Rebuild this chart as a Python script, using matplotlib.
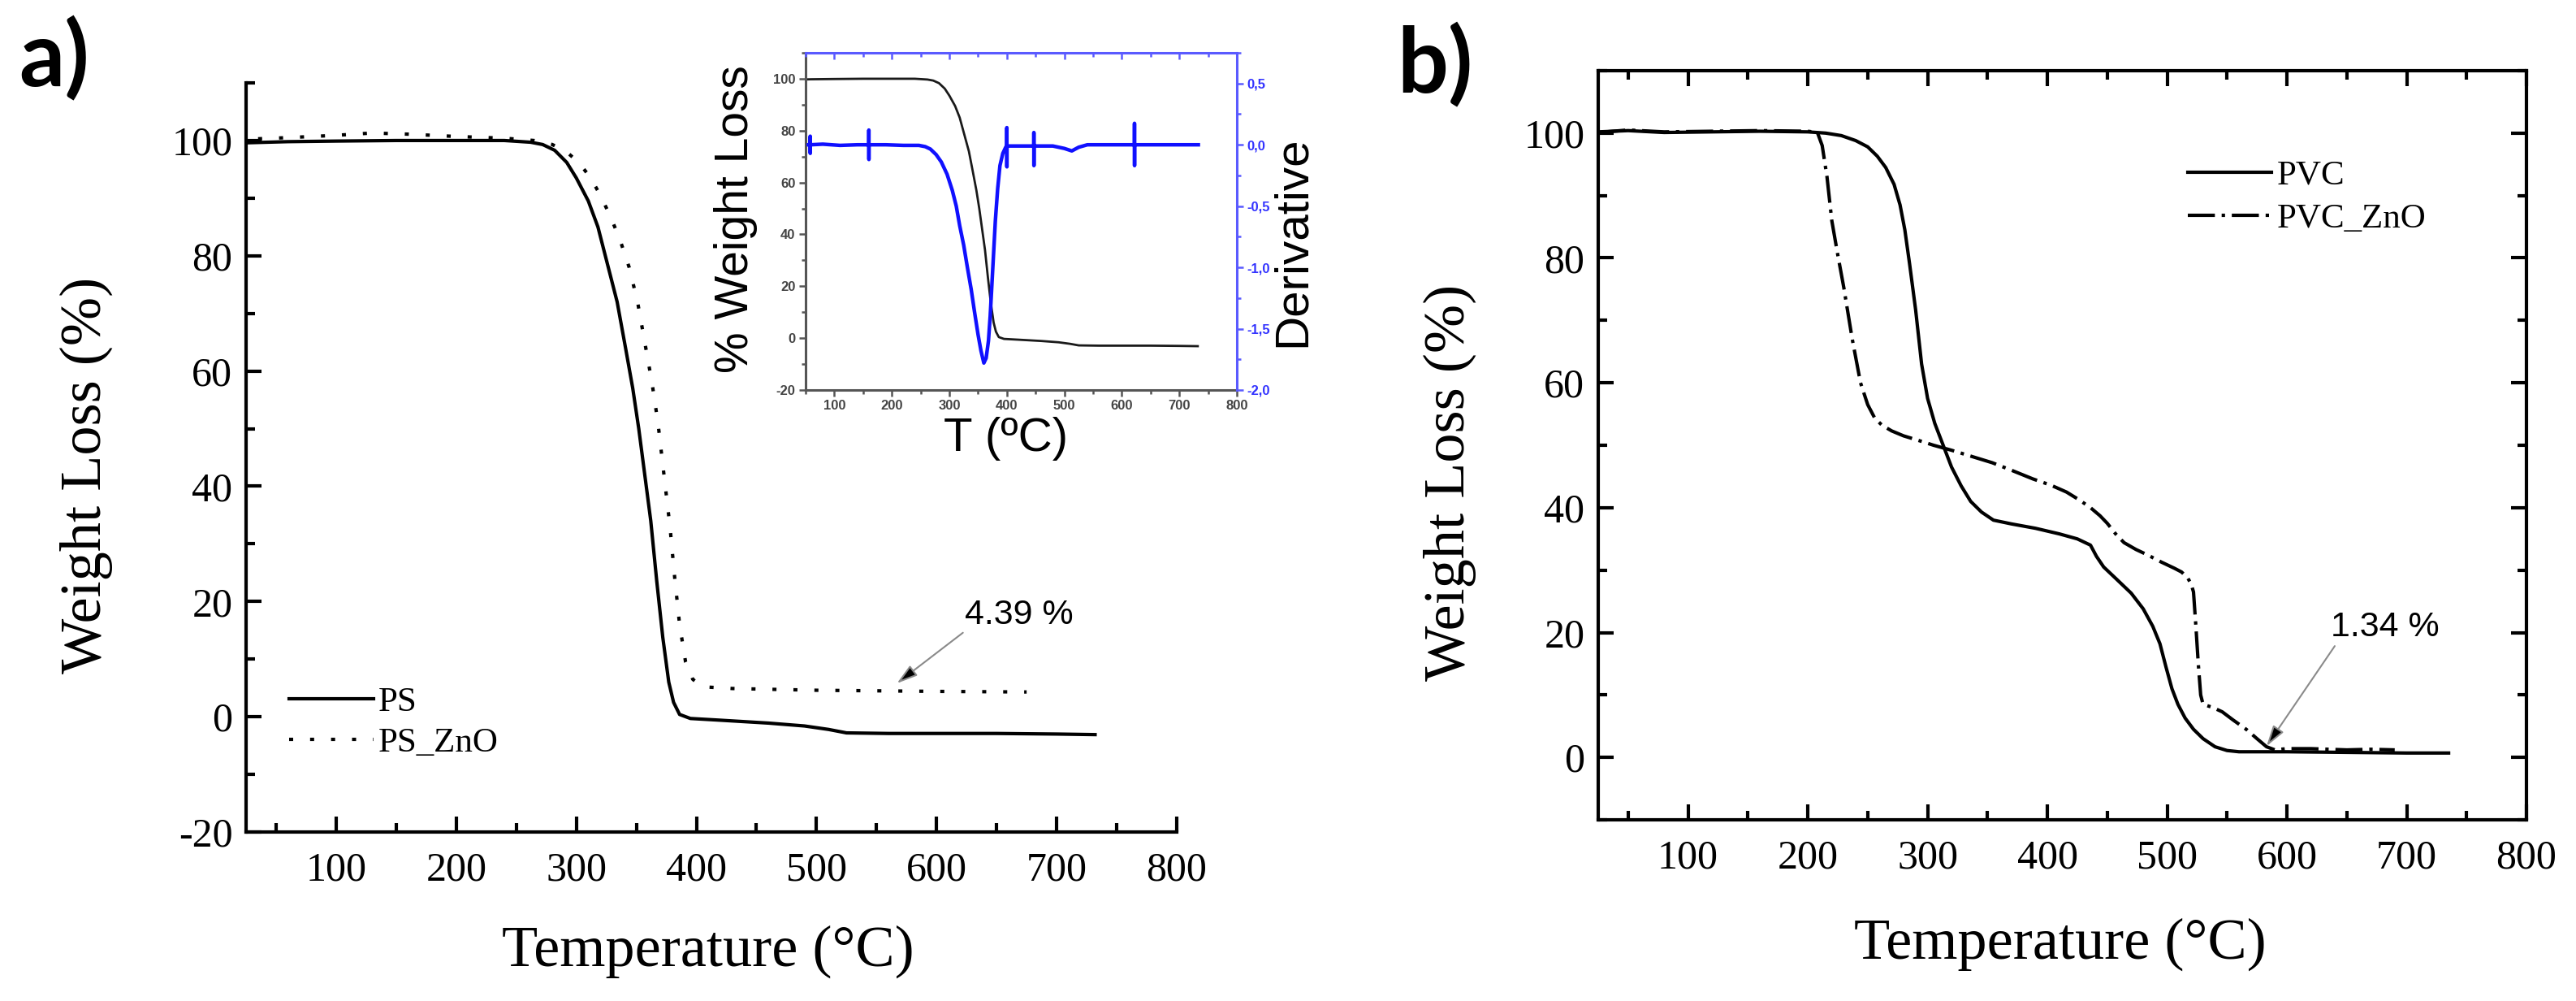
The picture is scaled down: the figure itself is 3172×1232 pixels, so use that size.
import matplotlib
matplotlib.use('Agg')
import matplotlib.pyplot as plt
from matplotlib.ticker import MultipleLocator, FuncFormatter

plt.rcParams['axes.unicode_minus'] = False
plt.rcParams['font.family'] = ['Liberation Serif', 'DejaVu Serif']

SERIF = 'Liberation Serif'
SANS = 'Liberation Sans'

# ---------------- data ----------------
ps_T = [25, 60, 100, 150, 200, 240, 262, 272, 282, 292, 300, 310, 318, 326, 334, 341,
        347, 352, 357, 362, 367, 372, 377, 381, 386, 395, 420, 460, 490, 510, 525, 560,
        650, 700, 732]
ps_W = [99.6, 99.8, 99.9, 100, 100, 100, 99.7, 99.3, 98.3, 96.2, 93.5, 89.5, 85, 78.5,
        72, 64, 57, 50, 42, 34, 23.5, 13.8, 6, 2.5, 0.4, -0.3, -0.6, -1.1, -1.6, -2.2,
        -2.8, -2.9, -2.9, -3.0, -3.1]

pszno_T = [35, 60, 100, 130, 160, 200, 240, 265, 280, 292, 302, 312, 320, 328, 336, 344,
           351, 357, 363, 368, 373, 378, 382, 386, 391, 397, 405, 430, 500, 600, 675]
pszno_W = [100.3, 100.5, 100.9, 101.3, 101.1, 100.7, 100.4, 100.0, 99.3, 98.0, 96.2, 93.5,
           90.5, 87, 83, 78, 72, 65, 58, 51, 42, 33, 24, 16, 9.5, 6.5, 5.2, 4.9, 4.6,
           4.4, 4.3]

pvc_T = [25, 50, 80, 120, 160, 200, 215, 228, 240, 250, 258, 265, 272, 277, 281, 285,
         290, 295, 300, 306, 313, 320, 328, 336, 345, 355, 370, 390, 410, 425, 436, 441,
         447, 458, 470, 480, 488, 494, 499, 504, 509, 515, 522, 530, 540, 550, 560, 600,
         650, 700, 735]
pvc_W = [100.2, 100.4, 100.1, 100.2, 100.3, 100.2, 100.0, 99.6, 98.8, 97.8, 96.3, 94.5,
         91.8, 88.5, 84.5, 79, 71.7, 63, 57.5, 53.5, 50, 46.5, 43.5, 41, 39.3, 38, 37.4,
         36.7, 35.8, 35, 34, 32.2, 30.5, 28.5, 26.3, 23.8, 21, 18.2, 14.5, 11, 8.5, 6.3,
         4.5, 3, 1.7, 1.1, 0.9, 0.9, 0.8, 0.7, 0.7]

pvczno_T = [25, 50, 80, 120, 160, 200, 208, 212, 216, 220, 225, 230, 237, 244, 250, 256,
            262, 270, 280, 292, 305, 320, 337, 354, 370, 388, 403, 416, 427, 436, 444,
            450, 457, 464, 474, 484, 495, 506, 512, 517, 520, 522, 524, 526, 528, 530,
            538, 546, 555, 566, 575, 583, 590, 600, 620, 650, 670, 690]
pvczno_W = [100.1, 100.5, 100.2, 100.3, 100.4, 100.3, 100.1, 98.0, 93.0, 86.0, 80.5, 75.3,
            67.1, 60.0, 56.5, 54.3, 53.2, 52.3, 51.5, 50.8, 50.0, 49.2, 48.2, 47.2, 46.0,
            44.6, 43.6, 42.5, 41.2, 40.0, 38.7, 37.5, 35.8, 34.4, 33.3, 32.4, 31.3, 30.3,
            29.7, 28.8, 27.8, 26.5, 21.0, 15.0, 10.0, 8.5, 8.0, 7.3, 6.0, 4.5, 3.0, 1.7,
            1.2, 1.4, 1.4, 1.2, 1.3, 1.2]

deriv_T = [55, 57.9, 58, 58.1, 58.2, 80, 110, 140, 159.9, 160, 160.1, 160.2, 190, 220,
           247, 258, 267, 277, 286, 296, 305, 312, 318, 325, 331, 338, 344, 350, 355, 360,
           364, 368, 371, 374, 377, 380, 384, 388, 393, 398,
           399.9, 400, 400.1, 400.2, 420, 446.9, 447, 447.1, 447.2,
           480, 500, 513, 525, 540, 580, 621.9, 622, 622.1, 622.2, 660, 700, 733]
deriv_D = [0.0, 0.0, 0.07, -0.07, 0.0, 0.005, -0.005, 0.0, 0.0, 0.12, -0.12, 0.0, 0.0,
           -0.005,
           -0.005, -0.015, -0.035, -0.08, -0.14, -0.24, -0.37, -0.5, -0.66, -0.82, -0.99,
           -1.18, -1.37, -1.55, -1.68, -1.78, -1.74, -1.6, -1.4, -1.14, -0.88, -0.62,
           -0.36, -0.17, -0.07, -0.02,
           -0.01, 0.14, -0.18, -0.01, -0.01, -0.01, 0.1, -0.17, -0.01,
           -0.01, -0.03, -0.05, -0.02, 0.0, 0.0, 0.0, 0.175, -0.17, 0.0, 0.0, 0.0, 0.0]

# ---------------- layout ----------------
W, H = 3172, 1232
fig = plt.figure(figsize=(W / 100, H / 100), dpi=100)
fig.patch.set_facecolor('white')


def box(x0, y0, x1, y1):
    return [x0 / W, 1 - y1 / H, (x1 - x0) / W, (y1 - y0) / H]


axA = fig.add_axes(box(303, 102, 1449, 1024))
axB = fig.add_axes(box(1968, 87, 3111, 1009))


def style_main(ax, ylim, full_box):
    ax.set_xlim(25, 800)
    ax.set_ylim(*ylim)
    ax.xaxis.set_major_locator(MultipleLocator(100))
    ax.xaxis.set_minor_locator(MultipleLocator(50))
    ax.yaxis.set_major_locator(MultipleLocator(20))
    ax.yaxis.set_minor_locator(MultipleLocator(10))
    for s in ax.spines.values():
        s.set_linewidth(3)
    if not full_box:
        ax.spines['top'].set_visible(False)
        ax.spines['right'].set_visible(False)
    ax.tick_params(which='both', direction='in', width=3, labelsize=36,
                   top=full_box, right=full_box)
    ax.tick_params(which='major', length=14)
    ax.tick_params(which='minor', length=8)
    ax.tick_params(axis='x', pad=17)
    ax.tick_params(axis='y', pad=12)
    for lab in ax.get_xticklabels() + ax.get_yticklabels():
        lab.set_fontfamily(SERIF)
    ax.set_xlabel('Temperature (°C)', fontsize=52, fontfamily=SERIF, va='center')
    ax.set_ylabel('Weight Loss (%)', fontsize=52, fontfamily=SERIF, va='center')


style_main(axA, (-20, 110), False)
style_main(axB, (-10, 110), True)
axA.xaxis.set_label_coords(0.4965, -0.16)
axA.yaxis.set_label_coords(-0.172, 0.476)
axB.xaxis.set_label_coords(0.498, -0.166)
axB.yaxis.set_label_coords(-0.16, 0.45)

# panel a curves
axA.plot(ps_T, ps_W, color='black', lw=3, label='PS')
axA.plot(pszno_T, pszno_W, color='black', lw=3, ls=(0, (1.2, 5)), label='PS_ZnO')
axA.legend(loc='center left', bbox_to_anchor=(0.0465, 0.146), frameon=False,
           prop={'family': SERIF, 'size': 31}, handlelength=2.4, handletextpad=0.15,
           labelspacing=0.26, borderpad=0, borderaxespad=0)
axA.annotate('4.39 %', xy=(567, 5.8), xytext=(669, 17.7), ha='center', va='center',
             fontsize=31, fontfamily=SANS,
             arrowprops=dict(arrowstyle='-|>,head_length=0.5,head_width=0.15',
                             ec='#8a8a8a', fc='black', lw=1.5, shrinkA=0, shrinkB=0,
                             relpos=(0.0, 0.0)))

# panel b curves
axB.plot(pvc_T, pvc_W, color='black', lw=3, label='PVC')
axB.plot(pvczno_T, pvczno_W, color='black', lw=3, ls=(0, (8, 2, 1, 2)), label='PVC_ZnO')
axB.legend(loc='center left', bbox_to_anchor=(0.635, 0.831), frameon=False,
           prop={'family': SERIF, 'size': 31}, handlelength=2.4, handletextpad=0.15,
           labelspacing=0.32, borderpad=0, borderaxespad=0)
axB.annotate('1.34 %', xy=(583, 1.8), xytext=(682, 20.8), ha='center', va='center',
             fontsize=31, fontfamily=SANS,
             arrowprops=dict(arrowstyle='-|>,head_length=0.5,head_width=0.15',
                             ec='#8a8a8a', fc='black', lw=1.5, shrinkA=0, shrinkB=0,
                             relpos=(0.05, 0.0)))

# ---------------- inset ----------------
BLUE = '#1010ff'
SPB = '#5a5aff'
GRAY = '#444444'
axI = fig.add_axes(box(992, 65, 1523, 480))
axI.set_facecolor('white')
axI.plot(ps_T, ps_W, color='#1a1a1a', lw=2)
axI.set_xlim(50, 800)
axI.set_ylim(-20, 110)
axI.xaxis.set_major_locator(MultipleLocator(100))
axI.xaxis.set_minor_locator(MultipleLocator(50))
axI.yaxis.set_major_locator(MultipleLocator(20))
axI.yaxis.set_minor_locator(MultipleLocator(10))
for sname in ('left', 'bottom'):
    axI.spines[sname].set_color('#555555')
    axI.spines[sname].set_linewidth(2.2)
axI.spines['top'].set_visible(False)
axI.spines['right'].set_visible(False)
axI.tick_params(which='both', direction='out', color='#555555', width=1.8,
                labelcolor=GRAY, labelsize=12, pad=3, top=False, right=False)
axI.tick_params(which='major', length=6)
axI.tick_params(which='minor', length=3.5)
for lab in axI.get_xticklabels() + axI.get_yticklabels():
    lab.set_fontfamily(SANS)
    lab.set_fontweight('bold')
axI.set_xlabel('T (ºC)', fontsize=42, fontfamily=SANS, va='center')
axI.set_ylabel('% Weight Loss', fontsize=41, fontfamily=SANS, va='center')
axI.xaxis.set_label_coords(0.465, -0.145)
axI.yaxis.set_label_coords(-0.162, 0.506)

axI2 = axI.twinx()
axI2.plot(deriv_T, deriv_D, color=BLUE, lw=3.2)
axI2.set_ylim(-2.0, 0.75)
axI2.yaxis.set_major_locator(MultipleLocator(0.5))
axI2.yaxis.set_minor_locator(MultipleLocator(0.25))
axI2.yaxis.set_major_formatter(FuncFormatter(lambda v, p: f'{v:.1f}'.replace('.', ',')))
axI2.spines['left'].set_visible(False)
axI2.spines['bottom'].set_visible(False)
for sname in ('right', 'top'):
    axI2.spines[sname].set_color(SPB)
    axI2.spines[sname].set_linewidth(2.2)
axI2.tick_params(axis='y', which='both', direction='out', color=SPB, width=1.8,
                 labelcolor='#3333ff', labelsize=12, pad=3)
axI2.tick_params(axis='y', which='major', length=6)
axI2.tick_params(axis='y', which='minor', length=3.5)
axI2.xaxis.set_visible(True)
axI2.tick_params(axis='x', which='both', bottom=False, top=True, labelbottom=False,
                 labeltop=False, direction='in', color=SPB, width=1.8)
axI2.tick_params(axis='x', which='major', length=6)
axI2.tick_params(axis='x', which='minor', length=3.5)
for lab in axI2.get_yticklabels():
    lab.set_fontfamily(SANS)
    lab.set_fontweight('bold')
axI2.set_ylabel('Derivative', fontsize=42, fontfamily=SANS, va='center', rotation=90)
axI2.yaxis.set_label_coords(1.13, 0.44)

# panel letters
fig.text(67 / W, 1 - 72 / H, 'a)', fontsize=80, fontweight='bold',
         fontfamily=['Lato', 'DejaVu Sans'], ha='center', va='center')
fig.text(1767 / W, 1 - 80 / H, 'b)', fontsize=80, fontweight='bold',
         fontfamily=['Lato', 'DejaVu Sans'], ha='center', va='center')

fig.savefig('out.png', dpi=100, facecolor='white')
